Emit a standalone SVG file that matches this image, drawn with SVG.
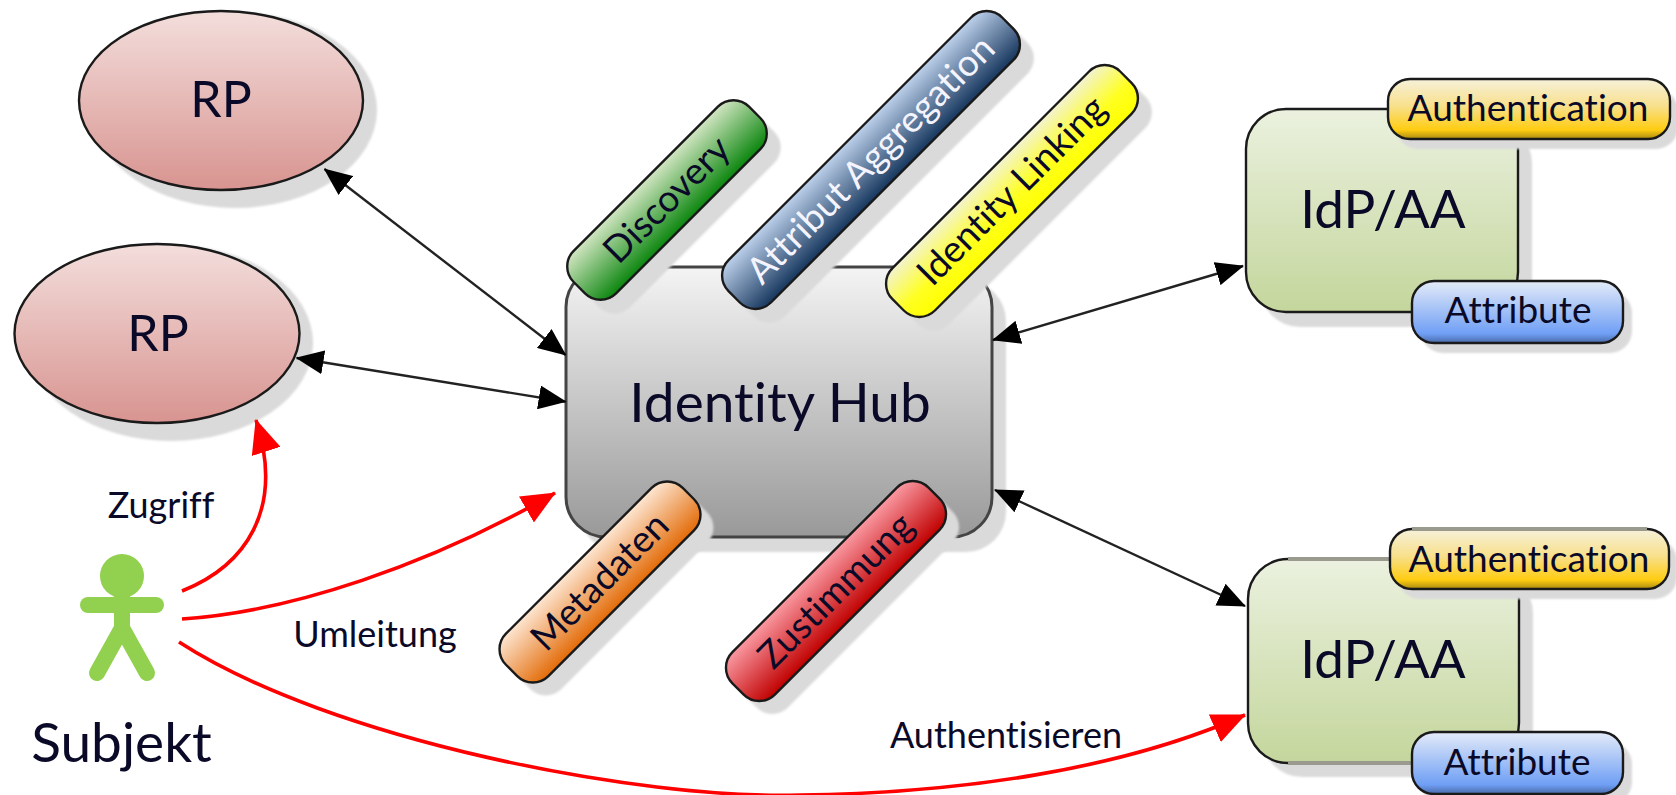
<svg xmlns="http://www.w3.org/2000/svg" width="1676" height="795" viewBox="0 0 1676 795">
<style>
text{font-family:Lato,"Open Sans","Liberation Sans",sans-serif;fill:#0a0a28;text-anchor:middle;font-variant-ligatures:none}
.big{font-size:55px}.mid{font-size:53px}.rp{font-size:50px}.pill{font-size:37px}.lab{font-size:36px}
.sh{fill:#dadada;filter:url(#b)}
.edge{stroke:#1a1a1a;stroke-width:2.4}
.soft{stroke:#9a9a8e;stroke-width:4;fill:none}
.blk{fill:none;stroke:#222;stroke-width:2.4;marker-start:url(#ah);marker-end:url(#ah)}
.red{fill:none;stroke:#f00;stroke-width:3.6;marker-end:url(#rh)}
.fig{fill:none;stroke:#92d050;stroke-linecap:round}
</style>
<defs>
<filter id="b" x="-10%" y="-10%" width="120%" height="120%"><feGaussianBlur stdDeviation="1.2"/></filter>
<linearGradient id="gRP" x1="0" y1="0" x2="0" y2="1"><stop offset="0" stop-color="#f3dedc"/><stop offset="1" stop-color="#d89490"/></linearGradient>
<linearGradient id="gHub" x1="0" y1="0" x2="0" y2="1"><stop offset="0" stop-color="#f4f4f4"/><stop offset="1" stop-color="#999"/></linearGradient>
<linearGradient id="gIdP" x1="0" y1="0" x2="0" y2="1"><stop offset="0" stop-color="#ebf1df"/><stop offset="1" stop-color="#c4d69c"/></linearGradient>
<linearGradient id="gAuth" x1="0" y1="0" x2="0" y2="1"><stop offset="0" stop-color="#f6f1da"/><stop offset=".45" stop-color="#f8e08c"/><stop offset=".85" stop-color="#ffcc11"/><stop offset="1" stop-color="#a88a10"/></linearGradient>
<linearGradient id="gAttr" x1="0" y1="0" x2="0" y2="1"><stop offset="0" stop-color="#e4ebf8"/><stop offset=".85" stop-color="#6f9ff5"/><stop offset="1" stop-color="#4a6aa8"/></linearGradient>
<linearGradient id="gDisc" x1="0" y1="0" x2="0" y2="1"><stop offset="0" stop-color="#d2e6c2"/><stop offset="1" stop-color="#0b860e"/></linearGradient>
<linearGradient id="gAggr" x1="0" y1="0" x2="0" y2="1"><stop offset="0" stop-color="#bcd0ea"/><stop offset="1" stop-color="#17375e"/></linearGradient>
<linearGradient id="gLink" x1="0" y1="0" x2="0" y2="1"><stop offset="0" stop-color="#f3f3d0"/><stop offset=".6" stop-color="#ffff22"/><stop offset="1" stop-color="#ffff00"/></linearGradient>
<linearGradient id="gMeta" x1="0" y1="0" x2="0" y2="1"><stop offset="0" stop-color="#fde6d2"/><stop offset="1" stop-color="#e36c09"/></linearGradient>
<linearGradient id="gZust" x1="0" y1="0" x2="0" y2="1"><stop offset="0" stop-color="#fa99a2"/><stop offset="1" stop-color="#c00000"/></linearGradient>
<marker id="ah" markerUnits="userSpaceOnUse" markerWidth="28" markerHeight="24" refX="27" refY="12" orient="auto-start-reverse"><path d="M0 0L28 12L0 24z" fill="#000"/></marker>
<marker id="rh" markerUnits="userSpaceOnUse" markerWidth="34" markerHeight="30" refX="33" refY="15" orient="auto"><path d="M0 0L34 15L0 30z" fill="#f00"/></marker>
</defs>
<rect width="1676" height="795" fill="#fff"/>

<g id="rp1"><ellipse class="sh" cx="235" cy="110" rx="142" ry="98"/><ellipse cx="221" cy="100.500" rx="142" ry="89.500" fill="url(#gRP)" class="edge"/><text class="rp" x="221" y="117">RP</text></g>
<g id="rp2"><ellipse class="sh" cx="171" cy="343" rx="142" ry="98"/><ellipse cx="157" cy="333.500" rx="142.500" ry="89.500" fill="url(#gRP)" class="edge"/><text class="rp" x="158" y="351">RP</text></g>

<g id="hub"><rect class="sh" x="580" y="281" width="426" height="271" rx="40"/><rect x="566" y="267" width="426" height="270" rx="40" fill="url(#gHub)" stroke="#444" stroke-width="3"/><text class="big" x="780" y="422">Identity Hub</text></g>

<g id="discovery" transform="translate(667 200)"><rect class="sh" transform="translate(14 14) rotate(-45)" x="-124" y="-30" width="248" height="60" rx="22"/><g transform="rotate(-45)"><rect x="-124" y="-30" width="248" height="60" rx="22" fill="url(#gDisc)" class="edge"/><text class="pill" y="12">Discovery</text></g></g>
<g id="aggregation" transform="translate(871 160)"><rect class="sh" transform="translate(14 14) rotate(-45)" x="-193.500" y="-30" width="387" height="60" rx="22"/><g transform="rotate(-45)"><rect x="-193.500" y="-30" width="387" height="60" rx="22" fill="url(#gAggr)" class="edge"/><text class="pill" y="12" style="fill:#f4f4ff">Attribut Aggregation</text></g></g>
<g id="linking" transform="translate(1012 191)"><rect class="sh" transform="translate(14 14) rotate(-45)" x="-161" y="-30" width="322" height="60" rx="22"/><g transform="rotate(-45)"><rect x="-161" y="-30" width="322" height="60" rx="22" fill="url(#gLink)" class="edge"/><text class="pill" y="12">Identity Linking</text></g></g>
<g id="metadaten" transform="translate(600 582)"><rect class="sh" transform="translate(13 13) rotate(-45)" x="-125" y="-30" width="250" height="60" rx="22"/><g transform="rotate(-45)"><rect x="-125" y="-30" width="250" height="60" rx="22" fill="url(#gMeta)" class="edge"/><text class="pill" y="12">Metadaten</text></g></g>
<g id="zustimmung" transform="translate(836 591)"><rect class="sh" transform="translate(13 13) rotate(-45)" x="-138.500" y="-30" width="277" height="60" rx="22"/><g transform="rotate(-45)"><rect x="-138.500" y="-30" width="277" height="60" rx="22" fill="url(#gZust)" class="edge"/><text class="pill" y="12">Zustimmung</text></g></g>

<g id="idp1"><rect class="sh" x="1260" y="123" width="272" height="204" rx="40"/><rect x="1246" y="109" width="272" height="203" rx="40" fill="url(#gIdP)" class="edge"/><text class="mid" x="1383" y="228">IdP/AA</text></g>
<g id="auth1"><rect class="sh" x="1396" y="89" width="282" height="60" rx="22"/><rect x="1388" y="79" width="282" height="60" rx="22" fill="url(#gAuth)" class="edge"/><text class="pill" x="1528" y="121">Authentication</text></g>
<g id="attr1"><rect class="sh" x="1421" y="291" width="211" height="62" rx="22"/><rect x="1412" y="281" width="211" height="62" rx="22" fill="url(#gAttr)" class="edge"/><text class="pill" x="1518" y="323">Attribute</text></g>

<g id="idp2"><rect class="sh" x="1262" y="573" width="271" height="204" rx="40"/><rect x="1248" y="559" width="271" height="204" rx="40" fill="url(#gIdP)" class="edge"/><path class="soft" d="M1288 559H1395M1288 763H1420"/><text class="mid" x="1383" y="678">IdP/AA</text></g>
<g id="auth2"><rect class="sh" x="1398" y="539" width="279" height="60" rx="22"/><rect x="1390" y="529" width="279" height="60" rx="22" fill="url(#gAuth)" class="edge"/><path class="soft" d="M1412 529H1647"/><text class="pill" x="1529" y="572">Authentication</text></g>
<g id="attr2"><rect class="sh" x="1421" y="742" width="211" height="62" rx="22"/><rect x="1412" y="732" width="211" height="62" rx="22" fill="url(#gAttr)" class="edge"/><text class="pill" x="1517" y="775">Attribute</text></g>

<g id="subjekt">
<circle cx="122" cy="576" r="22" fill="#92d050"/>
<path class="fig" stroke-width="16" d="M122 596V628M122 628L97 673M122 628L147 673"/>
<path class="fig" stroke-width="16" d="M88 605H156"/>
<text class="mid" x="121.500" y="762" style="font-size:55px">Subjekt</text>
</g>

<g id="connectors">
<path class="blk" d="M324.500 169L565.600 355"/>
<path class="blk" d="M296.600 358L565.600 401.700"/>
<path class="blk" d="M993 340L1243 266"/>
<path class="blk" d="M995 490L1245 606"/>
<path class="red" d="M182 591C245 566 285 510 256 420"/>
<path class="red" d="M182 619C290 612 430 565 555 493"/>
<path class="red" d="M179 642C330 740 640 800 800 795C960 793 1120 770 1245 715"/>
</g>

<g id="labels">
<text class="lab" x="161" y="518">Zugriff</text>
<text class="lab" x="375" y="647">Umleitung</text>
<text class="lab" x="1006" y="748">Authentisieren</text>
</g>
</svg>
